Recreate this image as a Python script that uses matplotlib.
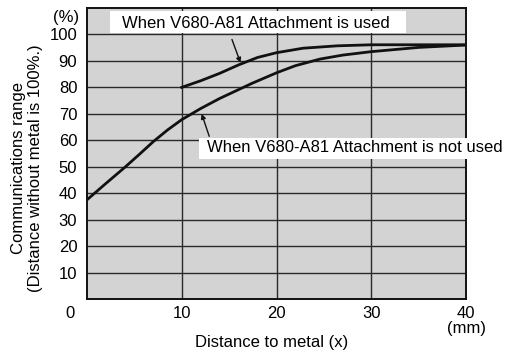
import matplotlib.pyplot as plt
from matplotlib.patches import Rectangle

plt.rcParams['font.family'] = ['Liberation Sans', 'DejaVu Sans']

# curves
x_not_used = [0, 2, 4, 5.5, 7, 8.5, 10, 11, 12, 14, 17.4, 20, 22, 24.6, 27, 30, 35, 40]
y_not_used = [37.5, 43.7, 49.8, 54.6, 59.5, 63.9, 67.8, 69.9, 72, 75.8, 81.5, 85.5, 88.2, 90.7, 92.2, 93.5, 95.1, 96]

x_used = [10, 12, 14, 16, 18, 20, 22.8, 26.4, 30, 35, 40]
y_used = [80, 82.5, 85.3, 88.5, 91.3, 93.1, 94.8, 95.7, 96.1, 96.1, 96.1]

xticks = [10, 20, 30]
yticks = [10, 20, 30, 40, 50, 60, 70, 80, 90, 100]

fig = plt.figure(figsize=(5.06, 3.56), dpi=100)
ax = fig.add_axes([87/506, 1-299/356, (466-87)/506, (299-8)/356])
ax.set_facecolor('#d3d3d3')
ax.set_xlim(0, 40)
ax.set_ylim(0, 110)

for v in yticks:
    ax.axhline(v, color='#2a2a2a', lw=1.0, zorder=1)
for v in xticks:
    ax.axvline(v, color='#2a2a2a', lw=1.0, zorder=1)

ax.plot(x_not_used, y_not_used, color='#111111', lw=2.0, zorder=3)
ax.plot(x_used, y_used, color='#111111', lw=2.0, zorder=3)

for s in ax.spines.values():
    s.set_linewidth(1.4)
    s.set_color('#111111')

ax.set_xticks(xticks + [40])
ax.set_xticklabels(['10', '20', '30', '40'], fontsize=12)
ax.set_yticks(yticks)
ax.set_yticklabels([str(v) for v in yticks], fontsize=12)
ax.tick_params(length=0, pad=7)
ax.tick_params(axis='x', pad=5)

ax.text(-1.8, -5.6, '0', ha='center', va='center', fontsize=12, clip_on=False)
ax.text(40, -11.2, '(mm)', ha='center', va='center', fontsize=12, clip_on=False)
ax.text(-0.8, 106.5, '(%)', ha='right', va='center', fontsize=12, clip_on=False)

ax.set_xlabel('Distance to metal (x)', fontsize=12, va='center')
ax.xaxis.set_label_coords(0.486, -0.151)
ax.set_ylabel('Communications range\n(Distance without metal is 100%.)',
              fontsize=12, va='center', linespacing=1.2)
ax.yaxis.set_label_coords(-0.158, 0.45)

# label boxes
ax.add_patch(Rectangle((2.43, 100.4), 31.2, 8.3, fc='white', ec='none', zorder=5, clip_on=False))
ax.text(3.7, 104.2, 'When V680-A81 Attachment is used', fontsize=12,
        va='center', ha='left', zorder=6)
ax.add_patch(Rectangle((11.8, 53), 33, 8, fc='white', ec='none', zorder=5, clip_on=False))
ax.text(12.65, 57.1, 'When V680-A81 Attachment is not used', fontsize=12,
        va='center', ha='left', zorder=6, clip_on=False)

arrow = dict(arrowstyle='-|>', color='#111111', lw=1, mutation_scale=7, shrinkA=0, shrinkB=0)
ax.annotate('', xy=(16.2, 89.3), xytext=(15.3, 98.1), arrowprops=arrow, zorder=4)
ax.annotate('', xy=(12.1, 70), xytext=(12.9, 61.5), arrowprops=arrow, zorder=4)

fig.savefig('out.png', dpi=100)
